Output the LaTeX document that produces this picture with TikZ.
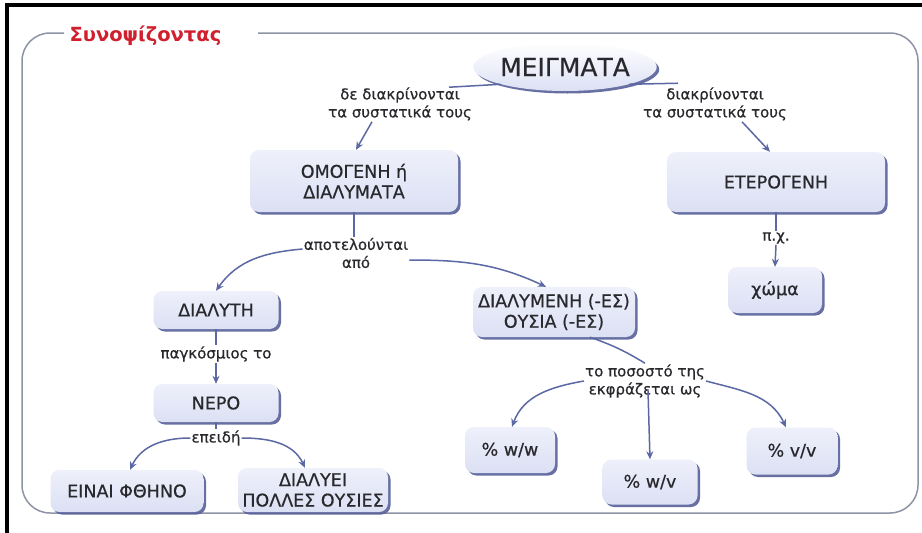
\documentclass[tikz,border=0pt]{standalone}
\usepackage{fontspec}
\setmainfont{DejaVu Sans}
\newfontfamily\rf{DejaVu Sans}[FakeBold=0.5]
\usetikzlibrary{arrows.meta,shapes.geometric,shadows}
\definecolor{linecol}{HTML}{5B68A3}
\definecolor{boxfill}{HTML}{DCE0F4}
\definecolor{boxtop}{HTML}{EEF0FA}
\definecolor{shadowcol}{HTML}{58619A}
\definecolor{framecol}{HTML}{8E93A6}
\definecolor{titlered}{HTML}{D0202E}
\definecolor{txt}{HTML}{28282D}
\begin{document}
\begin{tikzpicture}[x=1pt,y=-1pt,
  box/.style={rectangle, rounded corners=9pt, top color=boxtop, bottom color=boxfill,
    align=center, font=\rf\fontsize{17.5}{20.5}\selectfont, text=txt, inner sep=2pt,
    drop shadow={shadow xshift=2.5pt, shadow yshift=-2.5pt, fill=shadowcol, opacity=0.9}},
  ell/.style={ellipse, top color=white, bottom color=boxfill, minimum width=182pt,
    minimum height=48pt, inner sep=0pt, font=\rf\fontsize{25}{30}\selectfont, text=txt,
    drop shadow={shadow xshift=2.5pt, shadow yshift=-2.5pt, fill=shadowcol, opacity=0.9}},
  lab/.style={align=center, font=\rf\fontsize{15}{18}\selectfont, inner sep=1pt, text=txt},
  conn/.style={draw=linecol, line width=1.5pt},
  arr/.style={conn, -{Stealth[length=8pt,width=7pt]}},
  frame/.style={draw=framecol, line width=1.5pt, rounded corners=28pt}
]
\useasboundingbox (0,0) rectangle (922,533);
\fill[white] (0,0) rectangle (922,533);
\draw[black, line width=3.5pt] (7,533) -- (7,5) -- (922,5);

\node[anchor=base west, font=\fontsize{19.5}{24}\selectfont\bfseries, text=titlered] (title) at (66,41) {Συνοψίζοντας};
\draw[frame] (258,33) -- (918,33) -- (918,513) -- (22,513) -- (22,33) -- (64,33);

\node[ell] (meig) at (565,67) {ΜΕΙΓΜΑΤΑ};
\node[lab] (lab1) at (400,104) {δε διακρίνονται\\τα συστατικά τους};
\node[lab] (lab2) at (715,104) {διακρίνονται\\τα συστατικά τους};
\node[box, minimum width=208pt, minimum height=62pt] (omog) at (354,181) {ΟΜΟΓΕΝΗ ή\\ΔΙΑΛΥΜΑΤΑ};
\node[box, minimum width=218pt, minimum height=60pt] (eter) at (776,182) {ΕΤΕΡΟΓΕΝΗ};
\node[lab] (lab3) at (356,253) {αποτελούνται\\από};
\node[lab] (lab4) at (776,238) {π.χ.};
\node[box, minimum width=94pt, minimum height=46pt] (xoma) at (775,290) {χώμα};
\node[box, minimum width=125pt, minimum height=38pt] (dialyth) at (216,310) {ΔΙΑΛΥΤΗ};
\node[box, minimum width=162pt, minimum height=50pt] (dialym) at (554,312) {ΔΙΑΛΥΜΕΝΗ (-ΕΣ)\\ΟΥΣΙΑ (-ΕΣ)};
\node[lab] (lab5) at (216,354) {παγκόσμιος το};
\node[box, minimum width=125pt, minimum height=38pt] (nero) at (216,403) {ΝΕΡΟ};
\node[lab] (lab6) at (216,438) {επειδή};
\node[box, minimum width=153pt, minimum height=42pt] (fthino) at (127,491) {ΕΙΝΑΙ ΦΘΗΝΟ};
\node[box, minimum width=150pt, minimum height=44pt] (dialyei) at (313,490) {ΔΙΑΛΥΕΙ\\ΠΟΛΛΕΣ ΟΥΣΙΕΣ};
\node[lab] (lab7) at (645,381) {το ποσοστό της\\εκφράζεται ως};
\node[box, minimum width=90pt, minimum height=46pt] (ww) at (510,450) {\% w/w};
\node[box, minimum width=95pt, minimum height=45pt] (wv) at (650,482) {\% w/v};
\node[box, minimum width=91pt, minimum height=47pt] (vv) at (792,451) {\% v/v};

\draw[conn] (meig.195) -- ([xshift=-24pt,yshift=-1pt]lab1.north east);
\draw[arr] ([xshift=-28pt]lab1.south) -- ([xshift=2pt]omog.north);
\draw[conn] (meig.345) -- ([xshift=-37pt,yshift=3pt]lab2.north);
\draw[arr] ([xshift=27pt]lab2.south) -- ([xshift=-6pt]eter.north);
\draw[conn] (omog.south) -- (omog.south |- lab3.north);
\draw[arr] ([yshift=4pt]lab3.west) to[out=185,in=55] (dialyth.north);
\draw[arr] ([yshift=-7pt]lab3.east) to[out=0,in=155] ([xshift=-8pt]dialym.north);
\draw[conn] (eter.south) -- (lab4.north);
\draw[arr] (lab4.south) -- (xoma.north);
\draw[conn] (dialyth.south) -- (lab5.north);
\draw[arr] (lab5.south) -- (nero.north);
\draw[conn] (nero.south) -- (lab6.north);
\draw[arr] (lab6.west) to[out=180,in=65] ([xshift=3pt]fthino.north);
\draw[arr] (lab6.east) to[out=0,in=115] ([xshift=-8pt]dialyei.north);
\draw[conn] ([xshift=36pt]dialym.south) to[bend left=6] (lab7.north);
\draw[arr] (lab7.west) to[out=190,in=70] ([xshift=2pt]ww.north);
\draw[arr] ([xshift=3pt,yshift=8pt]lab7.south) -- (wv.north);
\draw[arr] (lab7.east) to[out=-15,in=115] ([xshift=-6pt]vv.north);
\end{tikzpicture}
\end{document}
